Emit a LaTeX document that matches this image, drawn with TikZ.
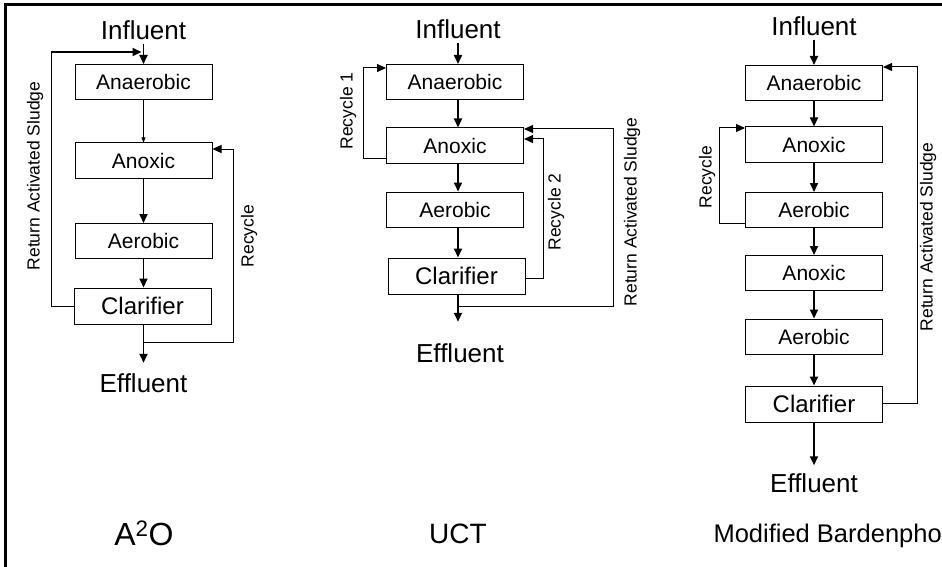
\documentclass[tikz,border=0pt]{standalone}
\usepackage{fontspec}
\setmainfont{Liberation Sans}
\usetikzlibrary{arrows.meta}

\newcommand{\fs}[1]{\fontsize{#1}{#1}\selectfont}

\begin{document}
\begin{tikzpicture}[x=1pt, y=-1pt,
		box/.style={draw, line width=1pt, minimum width=137pt, minimum height=35pt, inner sep=0pt, font=\fs{21}},
		clar/.style={box, minimum height=36pt, font=\fs{24}},
		stream/.style={inner sep=2pt, font=\fs{26}},
		flow/.style={line width=1.8pt, -{Triangle[length=9pt,width=8pt]}},
		thinflow/.style={line width=1pt, -{Triangle[length=9pt,width=8pt]}},
		pipe/.style={line width=1pt},
		lab/.style={rotate=90, inner sep=0pt, font=\fs{17.5}}]
	\useasboundingbox (0,0) rectangle (942,567);
	% Frame
	\draw[line width=3pt] (5.5,567) -- (5.5,4.5) -- (942,4.5);

	% A2O
	\node[stream] (ai) at (143.5,30) {Influent};
	\node[box] (a1) at (143.5,82) {Anaerobic};
	\node[box] (a2) at (143.5,160.5) {Anoxic};
	\node[box] (a3) at (143.5,241) {Aerobic};
	\node[clar] (a4) at (142.5,306) {Clarifier};
	\node[stream] (ae) at (143.5,383.5) {Effluent};
	\node[font=\fs{32}] (at) at (144,533) {A\textsuperscript{2}O};
	\node[lab] (al1) at (35,176) {Return Activated Sludge};
	\node[lab] (al2) at (249,236) {Recycle};
	\coordinate (ar) at (51,52);
	\coordinate (ao) at (143.5,342);
	\coordinate (ac) at (233,149);
	\draw[flow, shorten <=2pt] (ai) -- (a1);
	\draw[line width=0.6pt, -{Triangle[length=5pt,width=4pt]}] (a1) -- (a2);
	\draw[flow] (a2) -- (a3);
	\draw[flow] (a3) -- (a3 |- a4.north);
	\draw[flow, shorten >=9pt] (a3 |- a4.south) -- (ae);
	\draw[pipe] (a4.west) -| (ar);
	\draw[flow, shorten >=2pt] (ar) -- (ar -| a1.north);
	\draw[thinflow] (ao) -| (ac) -- (ac -| a2.east);

	% UCT
	\node[stream] (ui) at (458,29) {Influent};
	\node[box] (u1) at (455,82) {Anaerobic};
	\node[box] (u2) at (455,145.5) {Anoxic};
	\node[box] (u3) at (455,209.5) {Aerobic};
	\node[clar] (u4) at (456.5,276) {Clarifier};
	\node[stream] (ue) at (460,353.5) {Effluent};
	\node[font=\fs{28}] (ut) at (458,534) {UCT};
	\node[lab] (ul1) at (348,111) {Recycle 1};
	\node[lab] (ul2) at (556,212) {Recycle 2};
	\node[lab] (ul3) at (632,212) {Return Activated Sludge};
	\coordinate (ur1) at (363,68);
	\coordinate (ur2) at (543,139);
	\coordinate (uo) at (458,306);
	\coordinate (ur3) at (613,129);
	\draw[flow, shorten <=2pt] (ui) -- (ui |- u1.north);
	\foreach \i/\j in {1/2,2/3,3/4} {
		\draw[flow] (ui |- u\i.south) -- (ui |- u\j.north);
	}
	\draw[flow, shorten >=20pt] (ui |- u4.south) -- (ui |- ue.north);
	\draw[thinflow] (u2.west |- 0,158) -| (ur1) -- (ur1 -| u1.west);
	\draw[thinflow] (u4.east |- 0,278) -| (ur2) -- (ur2 -| u2.east);
	\draw[thinflow] (uo) -| (ur3) -- (ur3 -| u2.east);

	% Modified Bardenpho
	\node[stream] (bi) at (814,26) {Influent};
	\node[box] (b1) at (814,83) {Anaerobic};
	\node[box] (b2) at (814,144.5) {Anoxic};
	\node[box] (b3) at (814,210) {Aerobic};
	\node[box] (b4) at (814,273) {Anoxic};
	\node[box] (b5) at (814,336.5) {Aerobic};
	\node[clar] (b6) at (814,404) {Clarifier};
	\node[stream] (be) at (814,483) {Effluent};
	\node[font=\fs{25.5}, anchor=west] (bt) at (710,536) {Modified Bardenpho};
	\node[lab] (bl1) at (707,177) {Recycle};
	\node[lab] (bl2) at (928,237) {Return Activated Sludge};
	\coordinate (br1) at (719,128);
	\coordinate (br2) at (917,67);
	\draw[flow, shorten <=2pt] (bi) -- (b1);
	\foreach \i/\j in {1/2,2/3,3/4,4/5,5/6} {
		\draw[flow] (b\i) -- (b\j);
	}
	\draw[flow, shorten >=6pt] (b6) -- (be);
	\draw[thinflow] (b3.west |- 0,223) -| (br1) -- (br1 -| b2.west);
	\draw[thinflow] (b6.east |- 0,403) -| (br2) -- (br2 -| b1.east);
\end{tikzpicture}
\end{document}
